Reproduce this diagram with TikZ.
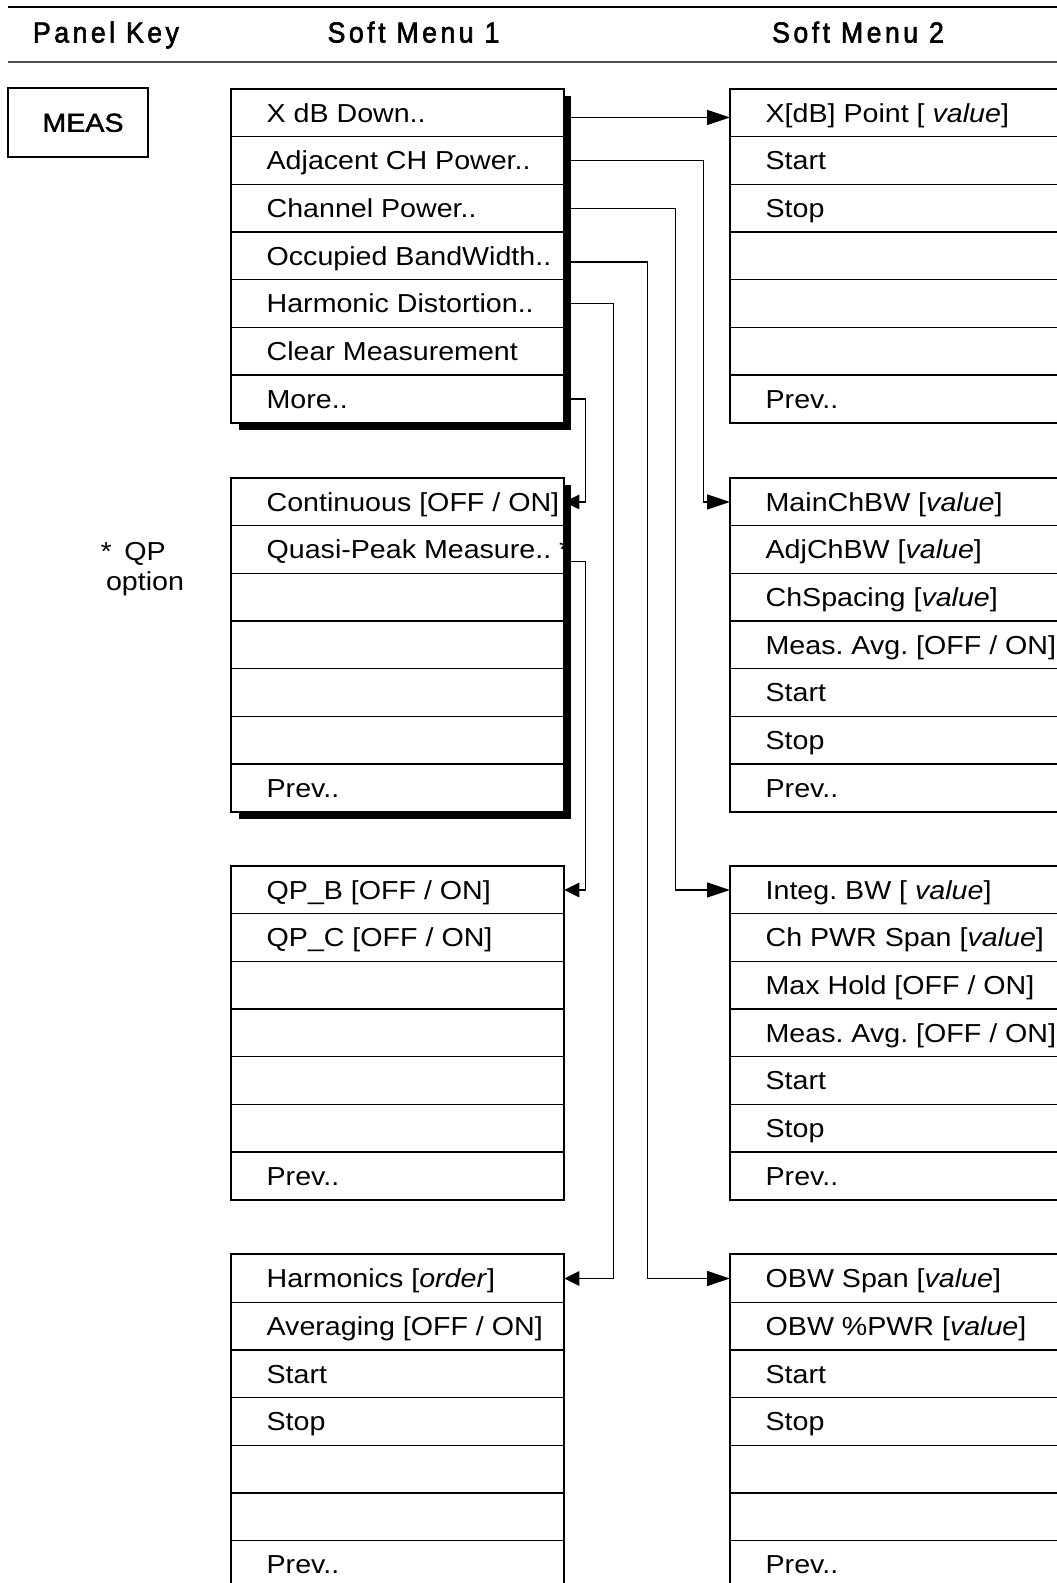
\documentclass[tikz,border=0pt]{standalone}
\usepackage{fontspec}
\setmainfont{Liberation Sans}[FakeStretch=1.1]
\newfontfamily\hdrfont{Liberation Sans}[FakeStretch=0.92,LetterSpace=12,FakeBold=2]
\newfontfamily\keyfont{Liberation Sans}[FakeStretch=1.1,FakeBold=1.6]
\usetikzlibrary{arrows.meta}
\newcommand{\menutext}[1]{\makebox[6.64cm][l]{\hspace{0.7cm}#1}}
\frenchspacing

\begin{document}
\begin{tikzpicture}[every node/.style={font=\fontsize{14.8}{15.5}\selectfont},
  menurow/.style={draw,fill=white,line width=0.75pt,anchor=north west,inner sep=0pt,minimum height=0.953cm,text height=0.37cm,text depth=0pt},
  menuframe/.style={line width=1.1pt},
  shade/.style={fill=black},
  link/.style={line width=0.7pt},
  fwd/.style={link,-{Triangle[length=0.46cm,width=0.3cm]}},
  back/.style={link,-{Triangle[length=0.3cm,width=0.29cm]}},
  hdr/.style={font=\hdrfont\fontsize{16.5}{18}\selectfont,anchor=base}]
\useasboundingbox (0,0) rectangle (21.14,-31.66);
\clip (0,0) rectangle (21.14,-31.66);

% header
\draw[line width=1.1pt] (0.16,-0.14) -- (21.3,-0.14);
\draw[line width=1.3pt,black!70] (0.16,-1.24) -- (21.3,-1.24);
\node[hdr] (hkey) at (2.12,-0.85) {Panel Key};
\node[hdr] (hsm1) at (8.27,-0.85) {Soft Menu 1};
\node[hdr] (hsm2) at (17.16,-0.85) {Soft Menu 2};

% panel key
\node[draw,line width=0.6pt,minimum width=2.8cm,minimum height=1.38cm,text height=0.37cm,text depth=0pt,font=\keyfont\fontsize{14.8}{15.5}\selectfont] (meas) at (1.56,-2.45) {\hspace{0.2cm}MEAS};
\node[align=center,font=\fontsize{14.8}{17}\selectfont] (qpnote) at (2.9,-11.38) {\llap{*\hspace{0.25cm}}QP\\option};

% shadows of the first two menus
\fill[shade] (4.77,-1.92) rectangle (11.41,-8.591);
\fill[shade] (4.77,-9.70) rectangle (11.41,-16.371);

% soft menu 1
\foreach \lbl [count=\k] in {{X dB Down..},{Adjacent CH Power..},{Channel Power..},{Occupied BandWidth..},{Harmonic Distortion..},{Clear Measurement},{More..}}
  \node[menurow] (m1a-\k) at (4.62,{-1.77-(\k-1)*0.953}) {\menutext{\lbl}};
\foreach \lbl [count=\k] in {{Continuous [OFF / ON]},{Quasi-Peak Measure.. *},{},{},{},{},{Prev..}}
  \node[menurow] (m1b-\k) at (4.62,{-9.55-(\k-1)*0.953}) {\menutext{\lbl}};
\foreach \lbl [count=\k] in {{QP\_B [OFF / ON]},{QP\_C [OFF / ON]},{},{},{},{},{Prev..}}
  \node[menurow] (m1c-\k) at (4.62,{-17.31-(\k-1)*0.953}) {\menutext{\lbl}};
\foreach \lbl [count=\k] in {{Harmonics [\textit{order}]},{Averaging [OFF / ON]},{Start},{Stop},{},{},{Prev..}}
  \node[menurow] (m1d-\k) at (4.62,{-25.08-(\k-1)*0.953}) {\menutext{\lbl}};

% soft menu 2
\foreach \lbl [count=\k] in {{X[dB] Point [ \textit{value}]},{Start},{Stop},{},{},{},{Prev..}}
  \node[menurow] (m2a-\k) at (14.6,{-1.77-(\k-1)*0.953}) {\menutext{\lbl}};
\foreach \lbl [count=\k] in {{MainChBW [\textit{value}]},{AdjChBW [\textit{value}]},{ChSpacing [\textit{value}]},{Meas. Avg. [OFF / ON]},{Start},{Stop},{Prev..}}
  \node[menurow] (m2b-\k) at (14.6,{-9.55-(\k-1)*0.953}) {\menutext{\lbl}};
\foreach \lbl [count=\k] in {{Integ. BW [ \textit{value}]},{Ch PWR Span [\textit{value}]},{Max Hold [OFF / ON]},{Meas. Avg. [OFF / ON]},{Start},{Stop},{Prev..}}
  \node[menurow] (m2c-\k) at (14.6,{-17.31-(\k-1)*0.953}) {\menutext{\lbl}};
\foreach \lbl [count=\k] in {{OBW Span [\textit{value}]},{OBW \%PWR [\textit{value}]},{Start},{Stop},{},{},{Prev..}}
  \node[menurow] (m2d-\k) at (14.6,{-25.08-(\k-1)*0.953}) {\menutext{\lbl}};

\foreach \m in {m1a,m1b,m1c,m1d,m2a,m2b,m2c,m2d}
  \draw[menuframe] (\m-1.north west) rectangle (\m-7.south east);

% links
\draw[fwd] ([yshift=-0.09cm]m1a-1.east) -- ([yshift=-0.09cm]m2a-1.west);
\draw[fwd] (m1a-2.east) -- ++(2.79,0) |- (m2b-1.west);
\draw[fwd] (m1a-3.east) -- ++(2.23,0) |- (m2c-1.west);
\draw[fwd] ([yshift=-0.12cm]m1a-4.east) -- ++(1.67,0) |- (m2d-1.west);
\draw[back] (m1a-5.east) -- ++(0.99,0) |- (m1d-1.east);
\draw[back] (m1a-7.east) -- ++(0.43,0) |- (m1b-1.east);
\draw[back] ([yshift=-0.24cm]m1b-2.east) -- ++(0.43,0) |- (m1c-1.east);
\end{tikzpicture}
\end{document}
